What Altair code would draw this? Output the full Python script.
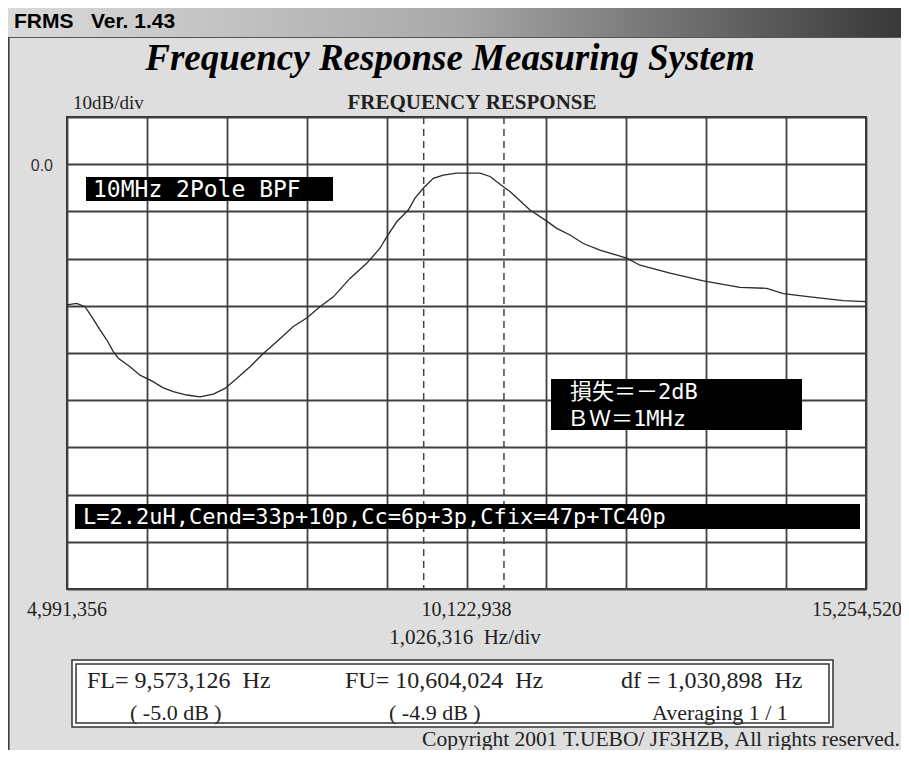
import altair as alt
import pandas as pd

# ---------------- data ----------------
freq_hz = [4991356, 5116000, 5223000, 5308600, 5415200, 5501300, 5586100, 5650300,
           5800600, 5929000, 6079300, 6228300, 6356800, 6528900, 6699700, 6870600,
           7020900, 7171200, 7342000, 7512800, 7685000, 7898200, 8070300, 8241100,
           8412000, 8626500, 8841000, 9011800, 9097900, 9226400, 9375400, 9461400,
           9573126, 9696500, 9824900, 9997100, 10296300, 10424800, 10604024, 10681700,
           10938600, 11131300, 11281600, 11452400, 11623200, 11837700, 12180700, 12351500,
           12736900, 13164600, 13636000, 13979000, 14192200, 14535200, 14962900, 15254520]
level_db = [-29.8, -29.5, -30.2, -32.3, -35.1, -37.2, -39.7, -41.1,
            -42.9, -44.7, -45.9, -47.4, -48.2, -48.9, -49.3, -48.7,
            -47.5, -45.4, -42.9, -40.1, -37.6, -34.4, -32.6, -30.2,
            -28.1, -24.2, -21.0, -17.8, -15.4, -12.2, -9.7, -7.2,
            -5.0, -3.0, -2.3, -1.9, -1.9, -2.6, -4.9, -5.8,
            -9.7, -11.8, -13.6, -15.0, -16.8, -18.2, -19.9, -21.4,
            -23.1, -24.7, -26.1, -26.3, -27.4, -28.1, -28.9, -29.1]

x_grid = [4991356, 6017672, 7043988, 8070304, 9096620, 10122938,
          11149252, 12175568, 13201884, 14228200, 15254520]
y_grid = [-90, -80, -70, -60, -50, -40, -30, -20, -10, 0, 10]

marker_hz = [9573126, 10604024]          # FL, FU
x_label_hz = [4991356, 10122938]
x_label_txt = ["4,991,356", "10,122,938"]
x_label_right_hz = [15254520]
x_label_right_txt = ["15,254,520"]
y_label_db = [0.0]
y_label_txt = ["0.0"]

NB = "\u00a0"

# ---------------- layout ----------------
W, H = 799, 472
SERIF = "Liberation Serif"
SANS = "Liberation Sans"
MONO = "DejaVu Sans Mono, Noto Sans CJK JP"

one = pd.DataFrame({"k": [0]})

X = alt.X("f:Q", scale=alt.Scale(domain=[4991356, 15254520], nice=False, zero=False),
          axis=alt.Axis(values=x_grid, grid=True, labels=False, ticks=False, domain=False,
                        title=None, gridColor="#404040", gridWidth=1.8, gridOpacity=1))
Y = alt.Y("db:Q", scale=alt.Scale(domain=[-90, 10], nice=False, zero=False),
          axis=alt.Axis(values=y_grid, grid=True, labels=False, ticks=False, domain=False,
                        title=None, gridColor="#404040", gridWidth=1.8, gridOpacity=1))


def txt(s, x, y, size, font, weight="normal", style="normal", color="black",
        align="left", baseline="middle"):
    return alt.Chart(one).mark_text(
        text=s.replace(" ", NB), align=align, baseline=baseline, font=font, fontSize=size,
        fontWeight=weight, fontStyle=style, color=color
    ).encode(x=alt.value(x), y=alt.value(y))


def box(x1, x2, y1, y2, fill="black", stroke=None, sw=0):
    kw = dict(fill=fill)
    if stroke is not None:
        kw.update(stroke=stroke, strokeWidth=sw)
    return alt.Chart(one).mark_rect(**kw).encode(
        x=alt.value(x1), x2=alt.value(x2), y=alt.value(y1), y2=alt.value(y2))


# title bar
bar = alt.Chart(one).mark_rect(
    color=alt.Gradient(gradient="linear",
                       stops=[alt.GradientStop(color="#dadada", offset=0),
                              alt.GradientStop(color="#a9a9a9", offset=0.5),
                              alt.GradientStop(color="#383838", offset=1)],
                       x1=0, x2=1, y1=0, y2=0)
).encode(x=alt.value(-59), x2=alt.value(834), y=alt.value(-109), y2=alt.value(-80))
bar_line = alt.Chart(one).mark_rule(color="#555555", strokeWidth=1).encode(
    x=alt.value(-59), x2=alt.value(834), y=alt.value(-79.5))
frame_left = alt.Chart(one).mark_rule(color="#333333", strokeWidth=1.5).encode(
    x=alt.value(-58.2), y=alt.value(-80), y2=alt.value(640))

layers = [
    bar, bar_line, frame_left,
    txt("FRMS   Ver. 1.43", -53, -95, 21, SANS, weight="bold"),
    txt("Frequency Response Measuring System", 383, -47, 37, SERIF, weight="bold",
        style="italic", align="center", baseline="alphabetic"),
    txt("10dB/div", 6, -14, 19, SERIF, color="#222222"),
    txt("FREQUENCY RESPONSE", 405, -14, 21, SERIF, weight="bold", align="center",
        color="#222222"),
]

# curve + markers (share scales)
curve = alt.Chart(pd.DataFrame({"f": freq_hz, "db": level_db})).mark_line(
    color="#2a2a2a", strokeWidth=1.3).encode(x=X, y=Y)
markers = alt.Chart(pd.DataFrame({"f": marker_hz})).mark_rule(
    color="#444444", strokeWidth=1.5, strokeDash=[7, 5]).encode(x=X)

xlab = alt.Chart(pd.DataFrame({"f": x_label_hz, "t": x_label_txt})).mark_text(
    align="center", baseline="middle", font=SERIF, fontSize=20, color="#222222"
).encode(x=X, y=alt.value(493), text="t:N")
xlab_r = alt.Chart(pd.DataFrame({"f": x_label_right_hz, "t": x_label_right_txt})).mark_text(
    align="right", baseline="middle", font=SERIF, fontSize=20, color="#222222", dx=36
).encode(x=X, y=alt.value(493), text="t:N")
ylab = alt.Chart(pd.DataFrame({"db": y_label_db, "t": y_label_txt})).mark_text(
    align="right", baseline="middle", font=SANS, fontSize=16, color="#333333", dy=2
).encode(y=Y, x=alt.value(-14), text="t:N")

layers += [curve, markers, xlab, xlab_r, ylab]

# annotation boxes inside plot
layers += [
    box(19, 266, 60, 84),
    txt("10MHz 2Pole BPF", 26, 72.5, 23, MONO, color="white"),
    box(484, 735, 262, 313),
    txt("損失＝－2dB", 503, 275, 22, MONO, color="white"),
    txt("ＢＷ＝1MHz", 500, 302, 22, MONO, color="white"),
    box(8, 793, 387, 412),
    txt("L=2.2uH,Cend=33p+10p,Cc=6p+3p,Cfix=47p+TC40p", 16, 400, 22, MONO, color="white"),
]

# bottom texts
layers += [
    txt("1,026,316  Hz/div", 398, 521, 21, SERIF, align="center", color="#222222"),
    box(5, 766, 543, 610, fill="white", stroke="#333333", sw=1.5),
    box(9, 762, 547, 606, fill="white", stroke="#333333", sw=1.5),
    txt("FL= 9,573,126  Hz", 20, 564, 24, SERIF, color="#222222"),
    txt("FU= 10,604,024  Hz", 278, 564, 24, SERIF, color="#222222"),
    txt("df = 1,030,898  Hz", 554, 564, 24, SERIF, color="#222222"),
    txt("( -5.0 dB )", 63, 596, 22, SERIF, color="#222222"),
    txt("( -4.9 dB )", 322, 596, 22, SERIF, color="#222222"),
    txt("Averaging 1 / 1", 585, 596, 22, SERIF, color="#222222"),
    txt("Copyright 2001 T.UEBO/ JF3HZB, All rights reserved.", 833, 629, 21.5, SERIF,
        align="right", baseline="alphabetic", color="#222222"),
]

chart = alt.layer(*layers).properties(
    width=W, height=H,
    background="#dedede",
    padding={"left": 59, "top": 109, "right": 35, "bottom": 161},
    autosize=alt.AutoSizeParams(type="none"),
).configure_view(fill="white", stroke="#333333", strokeWidth=2)

chart.save("out.html", embed_options={"renderer": "svg", "actions": False})
